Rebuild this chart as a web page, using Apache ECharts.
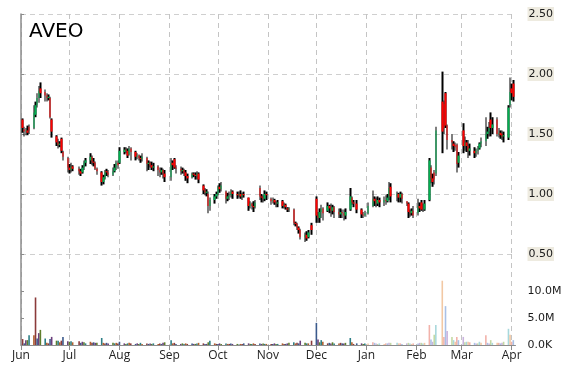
<!DOCTYPE html>
<html><head><meta charset="utf-8">
<script src="https://cdn.jsdelivr.net/npm/echarts@6/dist/echarts.min.js"></script>
<style>html,body{margin:0;padding:0;background:#fff}#c{width:570px;height:370px}</style>
</head><body><div id="c"></div>
<script>
const symbol = 'AVEO';
const monthTicks = ['2014-06-01','2014-07-01','2014-08-01','2014-09-01','2014-10-01','2014-11-01','2014-12-01','2015-01-01','2015-02-01','2015-03-01','2015-04-01'];
const monthNames = ['Jan','Feb','Mar','Apr','May','Jun','Jul','Aug','Sep','Oct','Nov','Dec'];
const firstDay = '2014-06-02', lastDay = '2015-04-02';
const holidays = ['2014-07-04','2014-09-01','2014-11-27','2014-12-25','2015-01-01','2015-01-19','2015-02-16'];
const priceTicks = [0.5, 1.0, 1.5, 2.0, 2.5];
const volumeTicks = [0, 5, 10];   // millions

// [open, close, low, high]
const jun = [[1.62,1.55,1.51,1.63],[1.54,1.52,1.48,1.56],[1.52,1.53,1.49,1.55],[1.53,1.51,1.49,1.57],[1.56,1.53,1.50,1.58],
 [1.55,1.68,1.54,1.74],[1.66,1.74,1.64,1.77],[1.74,1.80,1.72,1.84],[1.80,1.86,1.76,1.90],[1.88,1.84,1.80,1.93],
 [1.85,1.82,1.77,1.87],[1.82,1.80,1.77,1.84],[1.80,1.81,1.78,1.83],[1.80,1.64,1.63,1.81],[1.62,1.52,1.47,1.63],
 [1.48,1.43,1.40,1.49],[1.43,1.41,1.38,1.46],[1.41,1.42,1.39,1.44],[1.46,1.36,1.34,1.47],[1.35,1.31,1.28,1.36],
 [1.30,1.22,1.18,1.31]];
const jul = [[1.22,1.20,1.17,1.25],[1.20,1.23,1.18,1.26],[1.23,1.21,1.19,1.24],
 [1.21,1.19,1.16,1.23],[1.19,1.17,1.15,1.21],[1.18,1.22,1.17,1.24],[1.22,1.26,1.20,1.28],[1.26,1.28,1.23,1.30],
 [1.28,1.31,1.25,1.34],[1.31,1.27,1.24,1.32],[1.27,1.26,1.23,1.30],[1.26,1.21,1.20,1.27],[1.21,1.19,1.16,1.22],
 [1.18,1.10,1.07,1.19],[1.10,1.14,1.08,1.16],[1.13,1.19,1.12,1.20],[1.19,1.18,1.15,1.21],[1.18,1.16,1.14,1.20],
 [1.16,1.19,1.15,1.22],[1.19,1.22,1.18,1.25],[1.22,1.26,1.20,1.28],[1.26,1.24,1.21,1.28]];
const aug = [[1.26,1.36,1.25,1.39],
 [1.35,1.37,1.33,1.39],[1.37,1.36,1.34,1.39],[1.36,1.32,1.30,1.38],[1.33,1.38,1.32,1.40],[1.38,1.35,1.28,1.39],
 [1.35,1.31,1.28,1.36],[1.31,1.32,1.29,1.34],[1.32,1.30,1.28,1.33],[1.30,1.29,1.26,1.32],[1.29,1.31,1.27,1.34],
 [1.30,1.25,1.19,1.31],[1.25,1.26,1.20,1.28],[1.26,1.24,1.22,1.27],[1.24,1.22,1.20,1.27],[1.22,1.23,1.19,1.26],
 [1.23,1.20,1.15,1.24],[1.20,1.18,1.14,1.22],[1.18,1.20,1.16,1.22],[1.20,1.17,1.13,1.21],[1.17,1.14,1.10,1.20]];
const sep = [[1.14,1.26,1.11,1.30],[1.26,1.24,1.20,1.28],[1.29,1.22,1.21,1.30],[1.22,1.21,1.17,1.24],
 [1.21,1.19,1.16,1.23],[1.19,1.20,1.17,1.22],[1.20,1.18,1.15,1.21],[1.18,1.15,1.11,1.20],[1.15,1.13,1.09,1.17],
 [1.14,1.17,1.13,1.18],[1.17,1.16,1.14,1.18],[1.16,1.15,1.12,1.18],[1.15,1.17,1.12,1.19],[1.17,1.12,1.09,1.18],
 [1.07,1.03,1.00,1.08],[1.03,1.01,0.99,1.05],[1.01,1.02,0.98,1.04],[1.00,0.90,0.84,1.02],[0.90,0.95,0.86,0.97],
 [0.95,0.98,0.92,1.00],[0.98,1.00,0.96,1.02]];
const oct = [[1.00,1.06,0.99,1.07],[1.06,1.04,1.01,1.09],[1.04,1.07,1.02,1.10],
 [1.02,0.96,0.92,1.03],[0.96,0.98,0.94,1.01],[0.98,0.99,0.95,1.02],[0.99,1.02,0.97,1.04],[1.02,1.00,0.96,1.03],
 [1.00,0.99,0.96,1.02],[0.99,1.00,0.97,1.02],[1.00,0.98,0.96,1.03],[0.98,1.00,0.95,1.01],[1.00,0.99,0.97,1.02],
 [0.97,0.90,0.86,0.97],[0.90,0.92,0.88,0.94],[0.92,0.90,0.87,0.93],[0.90,0.89,0.85,0.94],[0.89,0.93,0.88,0.95],
 [1.05,0.98,0.95,1.07],[0.98,0.97,0.93,1.00],[0.97,0.96,0.93,0.99],[0.96,1.00,0.94,1.03],[1.00,0.99,0.95,1.02]];
const nov = [[0.96,0.94,0.91,0.97],[0.94,0.95,0.92,0.97],[0.95,0.93,0.91,0.96],[0.93,0.92,0.89,0.94],[0.92,0.93,0.89,0.95],
 [0.94,0.90,0.88,0.95],[0.90,0.91,0.88,0.93],[0.91,0.89,0.87,0.92],[0.88,0.87,0.85,0.89],[0.87,0.88,0.85,0.89],
 [0.87,0.76,0.74,0.88],[0.76,0.75,0.73,0.77],[0.75,0.72,0.70,0.76],[0.72,0.70,0.67,0.73],[0.70,0.64,0.62,0.71],
 [0.64,0.66,0.60,0.68],[0.66,0.63,0.61,0.69],[0.64,0.68,0.63,0.70],[0.74,0.70,0.66,0.76]];
const dec = [[0.96,0.82,0.76,0.98],[0.82,0.80,0.76,0.85],[0.80,0.85,0.76,0.88],[0.85,0.88,0.80,0.91],[0.88,0.84,0.78,0.89],
 [0.86,0.90,0.85,0.93],[0.90,0.88,0.84,0.91],[0.88,0.86,0.81,0.92],[0.86,0.89,0.83,0.91],[0.89,0.85,0.80,0.90],
 [0.85,0.83,0.80,0.88],[0.83,0.85,0.80,0.88],[0.85,0.84,0.80,0.87],[0.84,0.82,0.78,0.87],[0.82,0.85,0.79,0.88],
 [0.87,0.98,0.86,1.05],[0.97,0.93,0.91,0.98],[0.93,0.92,0.89,0.95],[0.92,0.87,0.84,0.95],
 [0.87,0.83,0.80,0.88],[0.83,0.82,0.80,0.85],[0.82,0.84,0.81,0.86]];
const jan = [[0.84,0.90,0.83,0.93],
 [0.90,0.96,0.89,1.03],[0.96,0.94,0.90,0.98],[0.94,0.92,0.89,0.97],[0.92,0.95,0.90,0.98],[0.95,0.93,0.89,0.97],
 [0.93,0.95,0.90,0.98],[0.95,0.94,0.91,0.99],[0.94,0.97,0.93,1.00],[0.97,1.05,0.95,1.10],[1.06,0.98,0.93,1.09],
 [0.98,1.00,0.94,1.02],[1.00,0.97,0.93,1.01],[0.97,1.00,0.93,1.02],[1.00,0.96,0.92,1.01],
 [0.94,0.92,0.90,0.94],[0.92,0.85,0.80,0.93],[0.85,0.84,0.81,0.87],[0.84,0.86,0.82,0.88],[0.86,0.82,0.80,0.90]];
const feb = [[0.84,0.90,0.82,0.96],[0.90,0.88,0.85,0.93],[0.93,0.87,0.86,0.95],[0.88,0.88,0.85,0.92],[0.87,0.92,0.86,0.95],
 [0.95,1.28,0.94,1.30],[1.22,1.13,1.09,1.24],[1.13,1.10,1.06,1.17],[1.18,1.12,1.08,1.20],[1.17,1.53,1.15,1.56],
 [1.77,1.52,1.34,2.02],[1.75,1.55,1.50,1.78],[1.84,1.57,1.55,1.85],[1.57,1.45,1.37,1.58],
 [1.45,1.43,1.37,1.50],[1.42,1.40,1.35,1.44],[1.41,1.39,1.36,1.43],[1.41,1.25,1.18,1.42],[1.26,1.32,1.22,1.35]];
const mar = [[1.53,1.40,1.34,1.59],[1.40,1.43,1.36,1.48],[1.43,1.40,1.35,1.45],[1.40,1.36,1.30,1.45],[1.36,1.38,1.32,1.42],
 [1.36,1.34,1.30,1.39],[1.34,1.36,1.31,1.38],[1.36,1.38,1.33,1.40],[1.38,1.42,1.37,1.43],[1.42,1.44,1.39,1.47],
 [1.44,1.50,1.40,1.64],[1.50,1.52,1.46,1.56],[1.52,1.55,1.48,1.60],[1.62,1.55,1.48,1.68],[1.55,1.58,1.50,1.64],
 [1.62,1.50,1.48,1.64],[1.50,1.51,1.47,1.55],[1.51,1.49,1.46,1.53],[1.50,1.48,1.45,1.53],[1.48,1.49,1.43,1.52],
 [1.47,1.72,1.45,1.74],[1.74,1.85,1.72,1.97]];
const apr = [[1.88,1.84,1.78,1.92],[1.92,1.81,1.77,1.95]];

// volume, millions of shares
const volJun = [1.1,0.3,0.9,0.9,1.8, 1.8,8.8,1.2,2.2,2.8, 1.2,0.4,0.3,1.1,1.5, 0.8,0.8,0.5,0.8,1.5, 0.7];
const volJul = [0.6,0.7,0.5, 0.7,0.4,0.6,0.5,0.3, 0.6,0.4,0.5,0.4,0.4, 1.3,0.4,0.3,0.4,0.3, 0.4,0.3,0.4,0.3];
const volAug = [0.6, 0.3,0.2,0.3,0.4,0.3, 0.2,0.3,0.2,0.4,0.2, 0.3,0.2,0.3,0.2,0.3, 0.2,0.3,0.2,0.4,0.5];
const volSep = [0.9,0.3,0.4,0.2, 0.2,0.3,0.2,0.3,0.2, 0.3,0.2,0.2,0.3,0.4, 0.3,0.2,0.2,0.5,0.8, 0.3,0.2];
const volOct = [0.2,0.3,0.2, 0.3,0.2,0.2,0.3,0.2, 0.2,0.1,0.2,0.2,0.3, 0.3,0.2,0.2,0.3,0.2, 0.3,0.2,0.3,0.2,0.2];
const volNov = [0.2,0.2,0.3,0.2,0.2, 0.3,0.2,0.2,0.3,0.4, 0.5,0.3,0.4,0.3,0.8, 0.4,0.3,0.3,0.8];
const volDec = [4.1,1.0,0.5,0.9,0.6, 0.3,0.4,0.3,0.5,0.3, 0.3,0.4,0.3,0.3,0.4, 1.3,0.5,0.2,0.3, 0.3,0.2,0.3];
const volJan = [0.3, 0.5,0.4,0.3,0.2,0.3, 0.2,0.3,0.3,0.4,0.4, 0.4,0.3,0.3,0.2, 0.3,0.4,0.3,0.2,0.3];
const volFeb = [0.3,0.4,0.4,0.3,0.4, 3.7,1.0,0.6,1.9,3.7, 11.9,1.5,7.2,2.6, 1.5,0.9,0.6,1.5,0.9];
const volMar = [1.5,0.5,0.6,0.6,0.5, 0.4,0.3,0.3,0.6,0.4, 1.8,0.4,0.3,0.9,0.4, 0.4,0.4,0.3,0.4,0.6, 3.0,1.9];
const volApr = [0.6,0.9];

// ---- build ----
const DAY = 86400000;
const parse = s => { const p = s.split('-'); return Date.UTC(+p[0], +p[1]-1, +p[2]); };
const holidaySet = new Set(holidays.map(parse));
const tickTimes = monthTicks.map(parse);
const t0 = tickTimes[0];
const dayOf = t => (t - t0) / DAY;            // x position in days since the first month tick
const dates = [];
for (let t = parse(firstDay); t <= parse(lastDay); t += DAY) {
  const wd = new Date(t).getUTCDay();
  if (wd !== 0 && wd !== 6 && !holidaySet.has(t)) dates.push(t);
}
const prices = [].concat(jun, jul, aug, sep, oct, nov, dec, jan, feb, mar, apr);
const volumes = [].concat(volJun, volJul, volAug, volSep, volOct, volNov, volDec, volJan, volFeb, volMar, volApr);
if (dates.length !== prices.length || dates.length !== volumes.length) console.error('length mismatch', dates.length, prices.length, volumes.length);

const tickDays = tickTimes.map(dayOf);
const xMax = 306.36;
const volTickValues = volumeTicks.map(v => v * 1e6);

const wickData = prices.map((p, i) => [dayOf(dates[i]), p[2], p[3], p[2], p[3]]);
const bodyData = prices.map((p, i) => [dayOf(dates[i]), p[0], p[1], Math.min(p[0], p[1]), Math.max(p[0], p[1])]);
const volPalette = ['#8b3a3a', '#3b5a8c', '#6b3f7c', '#5f7f2c', '#2c7f86', '#b0602c'];
const palePalette = ['#f2b2aa', '#a9c0e6', '#c9b3dd', '#c4d9a4', '#a8d8dc', '#f2c8a4'];
const paleFrom = parse('2015-01-01');
const volData = volumes.map((v, i) => ({
  value: [dayOf(dates[i]), v * 1e6],
  itemStyle: { color: (dates[i] >= paleFrom ? palePalette : volPalette)[i % volPalette.length] }
}));

const dashV = { show: true, lineStyle: { color: '#c4c4c4', type: [5, 4], width: 1 } };
const gridL = 21, gridR = 570 - 515.5;
const fmtMonth = v => monthNames[new Date(t0 + v * DAY + DAY / 2).getUTCMonth()];

const chart = echarts.init(document.getElementById('c'), null, { renderer: 'canvas' });
chart.setOption({
  animation: false,
  backgroundColor: '#ffffff',
  title: { text: symbol, left: 24, top: 17, textStyle: { fontFamily: 'DejaVu Sans', fontSize: 20, fontWeight: 'normal', color: '#000' } },
  grid: [
    { left: gridL, right: gridR, top: 14, height: 240 },
    { left: gridL, right: gridR, top: 254, height: 91 }
  ],
  xAxis: [
    { type: 'value', gridIndex: 0, min: 0, max: xMax,
      axisLine: { show: false }, axisTick: { show: false, customValues: tickDays },
      axisLabel: { show: false, customValues: tickDays }, splitLine: dashV },
    { type: 'value', gridIndex: 1, min: 0, max: xMax,
      axisLine: { show: true, lineStyle: { color: '#8c8c8c', width: 1 } },
      axisTick: { show: true, length: 5, lineStyle: { color: '#8c8c8c' }, customValues: tickDays },
      axisLabel: { customValues: tickDays, formatter: fmtMonth, margin: 5, color: '#222',
        fontFamily: 'Open Sans', fontSize: 12, hideOverlap: false },
      splitLine: dashV }
  ],
  yAxis: [
    { type: 'value', gridIndex: 0, position: 'right', min: priceTicks[0], max: priceTicks[priceTicks.length-1], interval: 0.5,
      axisLine: { show: true, lineStyle: { color: '#8c8c8c', width: 1.5 } },
      axisTick: { show: true, length: 3, lineStyle: { color: '#8c8c8c' } },
      splitLine: { show: true, lineStyle: { color: '#cfcfcf', type: [5, 4], width: 1 } },
      axisLabel: { formatter: v => v.toFixed(2), margin: 12, color: '#1a1a1a', fontFamily: 'DejaVu Sans', fontSize: 11,
        backgroundColor: '#eeebe0', padding: [2, 1, 1, 1] } },
    { type: 'value', gridIndex: 1, position: 'right', min: 0, max: 16.85e6,
      axisLine: { show: true, lineStyle: { color: '#8c8c8c', width: 1.5 } },
      axisTick: { show: true, length: 3, lineStyle: { color: '#8c8c8c' }, customValues: volTickValues },
      splitLine: { show: false },
      axisLabel: { customValues: volTickValues, margin: 12, color: '#1a1a1a', fontFamily: 'DejaVu Sans', fontSize: 11,
        formatter: v => v === 0 ? '0.0K' : (v / 1e6).toFixed(1) + 'M' } }
  ],
  series: [
    { type: 'candlestick', name: 'range', xAxisIndex: 0, yAxisIndex: 0, barWidth: 2, data: wickData,
      itemStyle: { color: '#000', color0: '#000', borderColor: '#000', borderColor0: '#000', borderWidth: 0 } },
    { type: 'candlestick', name: 'body', xAxisIndex: 0, yAxisIndex: 0, barWidth: 2, data: bodyData,
      itemStyle: { color: '#00b050', color0: '#ff0000', borderColor: '#00b050', borderColor0: '#ff0000', borderWidth: 0 } },
    { type: 'bar', name: 'volume', xAxisIndex: 1, yAxisIndex: 1, barWidth: 1.6, data: volData }
  ]
});
</script></body></html>
